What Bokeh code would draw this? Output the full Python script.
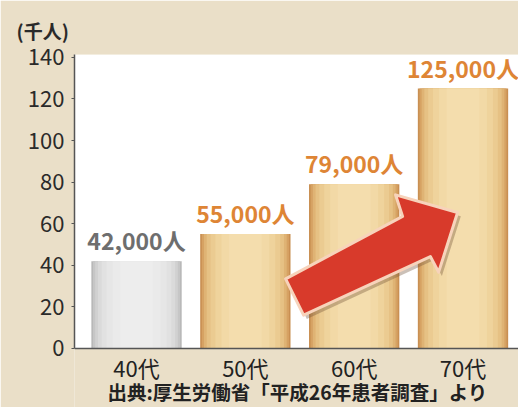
from bokeh.plotting import figure
from bokeh.models import ColumnDataSource, FixedTicker, Range1d, Title
from bokeh.embed import file_html
from bokeh.resources import INLINE

categories = ["40代", "50代", "60代", "70代"]
values = [42, 55, 79, 125]  # 千人
value_labels = ["42,000人", "55,000人", "79,000人", "125,000人"]
y_ticks = [0, 20, 40, 60, 80, 100, 120, 140]
unit_label = "(千人)"
source_note = "出典:厚生労働省「平成26年患者調査」より"

# arrow outline (data units)
arrow_x = [1.37, 1.535, 2.70, 2.776, 2.95, 2.38, 2.445]
arrow_y = [33.5, 16.0, 44.2, 36.7, 65.4, 73.9, 63.5]

xs = list(range(len(categories)))
FONT = "Noto Sans CJK JP"

X0, X1 = -0.57, 3.51
Y0, Y1 = -28.4, 141.4

p = figure(width=518, height=407, output_backend="svg", toolbar_location=None,
           x_range=Range1d(X0, X1), y_range=Range1d(Y0, Y1),
           min_border_left=74, min_border_right=0, min_border_top=54, min_border_bottom=0)
p.border_fill_color = "#eadfc8"
p.background_fill_color = "#eadfc8"
p.outline_line_color = None
p.grid.visible = False

# white plotting area (above the zero line)
p.quad(left=X0, right=X1, bottom=0, top=Y1, fill_color="white", line_color=None)

# bars with simulated horizontal gradient
gold = ["#c98f52", "#d6a263", "#dfb374", "#e6c184", "#ebcb91", "#efd39c", "#f2d9a6", "#f4ddad"]
gray = ["#b8b8b8", "#c6c6c6", "#d1d1d1", "#dadada", "#e1e1e1", "#e6e6e6", "#eaeaea", "#ededed"]
widths = [0.83, 0.80, 0.76, 0.71, 0.64, 0.55, 0.44, 0.30]
for i, w in enumerate(widths):
    cols = [gray[i]] + [gold[i]] * 3
    src = ColumnDataSource(dict(x=xs, top=values, color=cols))
    p.vbar(x="x", top="top", width=w, bottom=0, fill_color="color", line_color=None, source=src)

# value labels
lab_src = ColumnDataSource(dict(x=xs, y=values, text=value_labels,
                                color=["#6e6e6e", "#de8535", "#de8535", "#de8535"]))
p.text(x="x", y="y", text="text", source=lab_src, text_color="color",
       text_align="center", text_baseline="bottom", y_offset=-4,
       text_font_size="23px", text_font_style="bold", text_font={"value": FONT})

# arrow shadow + arrow
p.patch([x + 0.03 for x in arrow_x], [y - 1.8 for y in arrow_y], fill_color="#6b4a30",
        fill_alpha=0.35, line_color=None)
p.patch(arrow_x, arrow_y, fill_color="#d83a2b", line_color="#f7d3bb", line_width=3,
        line_join="round")

# zero line (x axis)
p.segment(x0=X0, y0=0, x1=X1, y1=0, line_color="#555555", line_width=1.5)

# category labels and source note below the axis
cat_src = ColumnDataSource(dict(x=xs, y=[0] * len(xs), text=categories))
p.text(x="x", y="y", text="text", source=cat_src, text_color="#222222",
       text_align="center", text_baseline="middle", y_offset=19,
       text_font_size="22px", text_font={"value": FONT})
p.text(x=[(X0 + X1) / 2 + 0.01], y=[0], text=[source_note], text_color="#222222",
       text_align="center", text_baseline="middle", y_offset=43,
       text_font_size="19.5px", text_font_style="bold", text_font={"value": FONT})

p.xaxis.visible = False

p.yaxis.ticker = FixedTicker(ticks=y_ticks)
p.yaxis.bounds = (0, Y1)
p.yaxis.minor_tick_line_color = None
p.yaxis.major_tick_out = 3
p.yaxis.major_tick_in = 0
p.yaxis.major_tick_line_color = "#555555"
p.yaxis.axis_line_color = "#555555"
p.yaxis.axis_line_width = 1.5
p.yaxis.major_label_text_font_size = "22px"
p.yaxis.major_label_text_color = "#2a2a2a"
p.yaxis.major_label_text_font = FONT
p.yaxis.major_label_standoff = 7

p.add_layout(Title(text=unit_label, align="left", offset=-58, standoff=22,
                   text_font_size="19px", text_font=FONT, text_font_style="bold",
                   text_color="#2a2a2a"), "above")

open("out.html", "w").write(file_html(p, INLINE))
